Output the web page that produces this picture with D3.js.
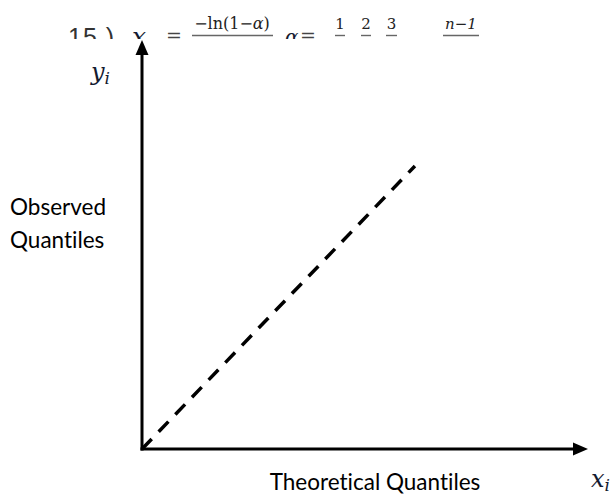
<!DOCTYPE html>
<html>
<head>
<meta charset="utf-8">
<script src="https://cdn.jsdelivr.net/npm/d3@7"></script>
<style>
  body { margin: 0; background: #fff; }
  text { font-variant-ligatures: none; }
</style>
</head>
<body>
<div id="chart"></div>
<script>
// Q-Q plot sketch: two arrowed axes and a dashed reference line

// data (unitless, the axes carry no ticks)
const xDomain = [0, 1];
const yDomain = [0, 1];
const refLine = [[0, 0], [0.612, 0.692]];
const yLabelLines = ["Observed", "Quantiles"];
const xLabel = "Theoretical Quantiles";
const fracNumerators = ["1", "2", "3", "n\u22121"];

const width = 615, height = 497;

const svg = d3.select("#chart")
    .append("svg")
    .attr("width", width)
    .attr("height", height);

// scales - origin at bottom left, arrow tips at the ends of the ranges
const x = d3.scaleLinear().domain(xDomain).range([142, 588]);
const y = d3.scaleLinear().domain(yDomain).range([449, 40]);

// formula strip at the top, clipped by the figure below it
svg.append("clipPath").attr("id", "topclip")
    .append("rect").attr("x", 0).attr("y", 0).attr("width", width).attr("height", 39);

const formula = svg.append("g").attr("clip-path", "url(#topclip)");
const serif = "'DejaVu Serif', 'Liberation Serif', serif";
const mathColor = "#141a30";

formula.append("text")
    .attr("x", 68).attr("y", 46)
    .style("font-family", "'Liberation Sans', Arial, sans-serif")
    .style("font-size", "25px")
    .style("letter-spacing", "1px")
    .attr("fill", "#333")
    .text("15 )");

formula.append("text")
    .attr("x", 132).attr("y", 44.5)
    .style("font-family", serif).style("font-size", "25px").style("font-style", "italic")
    .attr("fill", mathColor)
    .text("x");

formula.append("text")
    .attr("x", 166).attr("y", 42)
    .style("font-family", serif).style("font-size", "19px")
    .attr("fill", "#444")
    .text("=");

// -ln(1-a) / ...
const num = formula.append("text")
    .attr("x", 232).attr("y", 29)
    .attr("text-anchor", "middle")
    .style("font-family", serif).style("font-size", "16px")
    .attr("fill", "#222");
num.append("tspan").text("\u2212ln(1\u2212");
num.append("tspan").style("font-style", "italic").text("\u03b1");
num.append("tspan").text(")");

formula.append("line")
    .attr("x1", 192).attr("x2", 273).attr("y1", 35.5).attr("y2", 35.5)
    .attr("stroke", "#666").attr("stroke-width", 1.4);

formula.append("text")
    .attr("x", 285).attr("y", 44)
    .style("font-family", serif).style("font-size", "20px").style("font-style", "italic")
    .attr("fill", mathColor)
    .text("\u03b1");

formula.append("text")
    .attr("x", 300).attr("y", 42)
    .style("font-family", serif).style("font-size", "19px")
    .attr("fill", "#444")
    .text("=");

const fracPos = [[335, 345], [361, 371], [386, 397], [443, 479]];
fracNumerators.forEach((t, i) => {
    const [a, b] = fracPos[i];
    formula.append("text")
        .attr("x", (a + b) / 2).attr("y", 28.5)
        .attr("text-anchor", "middle")
        .style("font-family", serif).style("font-size", "15px")
        .style("font-style", t.startsWith("n") ? "italic" : "normal")
        .attr("fill", "#222")
        .text(t);
    formula.append("line")
        .attr("x1", a).attr("x2", b).attr("y1", 35.5).attr("y2", 35.5)
        .attr("stroke", "#666").attr("stroke-width", 1.4);
});

// axes
const x0 = x(xDomain[0]), y0 = y(yDomain[0]);
const xEnd = x(xDomain[1]), yEnd = y(yDomain[1]);
const head = 15, half = 6.5;

svg.append("line")
    .attr("x1", x0).attr("y1", y0 + 1.5)
    .attr("x2", x0).attr("y2", yEnd + head - 1)
    .attr("stroke", "#000").attr("stroke-width", 3);
svg.append("path")
    .attr("d", `M${x0},${yEnd}L${x0 - half},${yEnd + head}L${x0 + half},${yEnd + head}Z`)
    .attr("fill", "#000");

svg.append("line")
    .attr("x1", x0 - 1.5).attr("y1", y0)
    .attr("x2", xEnd - head + 1).attr("y2", y0)
    .attr("stroke", "#000").attr("stroke-width", 3);
svg.append("path")
    .attr("d", `M${xEnd},${y0}L${xEnd - head},${y0 - half}L${xEnd - head},${y0 + half}Z`)
    .attr("fill", "#000");

// dashed reference line
svg.append("path")
    .datum(refLine)
    .attr("d", d3.line().x(d => x(d[0])).y(d => y(d[1])))
    .attr("fill", "none")
    .attr("stroke", "#000")
    .attr("stroke-width", 3.5)
    .attr("stroke-dasharray", "14,10");

// axis labels
const sans = "Lato, 'Open Sans', sans-serif";
svg.selectAll(".ylab")
    .data(yLabelLines)
    .enter().append("text")
    .attr("class", "ylab")
    .attr("x", 10)
    .attr("y", (d, i) => 215 + i * 33)
    .style("font-family", sans).style("font-size", "22.5px")
    .attr("fill", "#000")
    .text(d => d);

svg.append("text")
    .attr("x", 375).attr("y", 490)
    .attr("text-anchor", "middle")
    .style("font-family", sans).style("font-size", "22.5px")
    .attr("fill", "#000")
    .text(xLabel);

// math symbols at the arrow tips
const yi = svg.append("text")
    .attr("x", 91).attr("y", 80)
    .style("font-family", serif).style("font-size", "24px").style("font-style", "italic")
    .attr("fill", mathColor);
yi.append("tspan").text("y");
yi.append("tspan").attr("dy", 4).style("font-size", "17px").text("i");

const xi = svg.append("text")
    .attr("x", 591).attr("y", 487)
    .style("font-family", serif).style("font-size", "24px").style("font-style", "italic")
    .attr("fill", mathColor);
xi.append("tspan").text("x");
xi.append("tspan").attr("dy", 4).style("font-size", "17px").text("i");
</script>
</body>
</html>
